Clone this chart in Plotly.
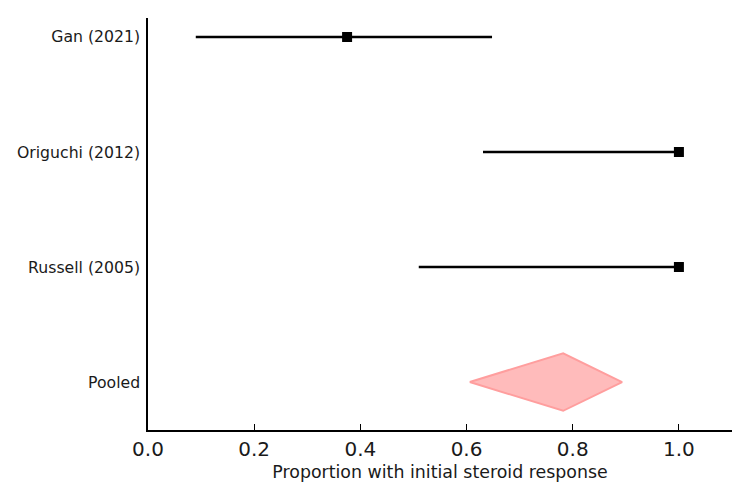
import plotly.graph_objects as go

studies = ["Gan (2021)", "Origuchi (2012)", "Russell (2005)"]
est = [0.375, 1.0, 1.0]
lo = [0.09, 0.631, 0.51]
hi = [0.648, 1.0, 1.0]
ypos = [3, 2, 1]

pooled_label = "Pooled"
pooled_est = 0.782
pooled_lo = 0.606
pooled_hi = 0.893
pooled_y = 0

fig = go.Figure()

fig.add_trace(go.Scatter(
    x=est, y=ypos, mode="markers",
    marker=dict(symbol="square", size=10, color="black"),
    error_x=dict(type="data", symmetric=False,
                 array=[h - e for h, e in zip(hi, est)],
                 arrayminus=[e - l for e, l in zip(est, lo)],
                 color="black", thickness=2.5, width=0),
    showlegend=False, hoverinfo="skip"))

dh = 0.25
fig.add_trace(go.Scatter(
    x=[pooled_lo, pooled_est, pooled_hi, pooled_est, pooled_lo],
    y=[pooled_y, pooled_y + dh, pooled_y, pooled_y - dh, pooled_y],
    mode="lines", fill="toself",
    fillcolor="#FFBBBB", line=dict(color="#FF9E9E", width=2),
    showlegend=False, hoverinfo="skip"))

fig.update_layout(
    width=750, height=500,
    margin=dict(l=148, r=18, t=18, b=70),
    plot_bgcolor="white", paper_bgcolor="white",
    font=dict(family="DejaVu Sans", color="#1a1a1a"),
)
fig.update_xaxes(
    range=[0, 1.1], tickvals=[0, 0.2, 0.4, 0.6, 0.8, 1.0],
    ticktext=["0.0", "0.2", "0.4", "0.6", "0.8", "1.0"],
    ticks="inside", ticklen=6, tickcolor="black", tickwidth=1,
    showline=True, linecolor="black", linewidth=1.5,
    showgrid=False, zeroline=False,
    tickfont=dict(size=20, color="#1a1a1a"),
    title=dict(text="Proportion with initial steroid response",
               font=dict(size=17.4, color="#1a1a1a"), standoff=6),
)
fig.update_yaxes(
    range=[-0.417, 3.165],
    tickvals=ypos + [pooled_y], ticktext=studies + [pooled_label],
    ticks="", showline=True, linecolor="black", linewidth=1.5,
    showgrid=False, zeroline=False, ticklabelstandoff=3,
    tickfont=dict(size=15.7, color="#1a1a1a"),
)

fig.write_html("out.html")
